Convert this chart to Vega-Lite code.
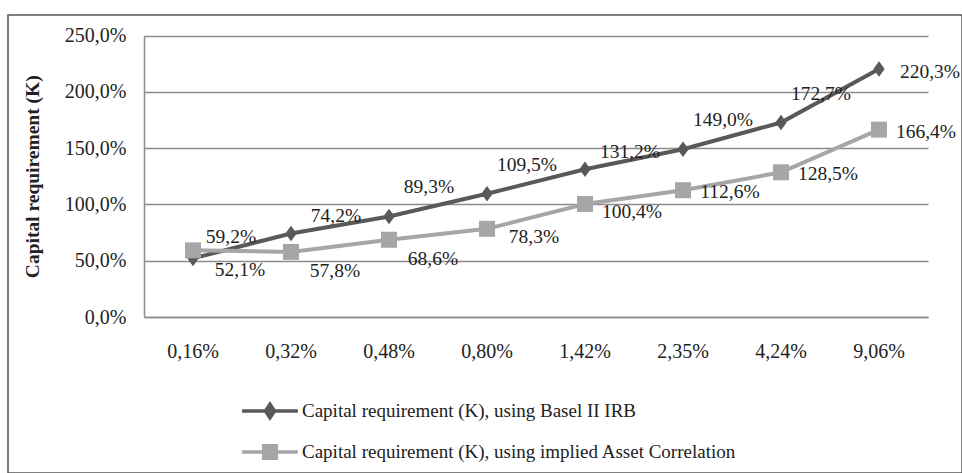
{
  "$schema": "https://vega.github.io/schema/vega-lite/v6.json",
  "autosize": {"type": "none"},
  "padding": {"left": 8, "top": 15, "right": 0, "bottom": 0},
  "width": 954,
  "height": 458,
  "background": "white",
  "config": {
    "locale": {"number": {"decimal": ",", "thousands": ".", "grouping": [3], "currency": ["", " €"]}},
    "view": {"stroke": "#555555", "strokeWidth": 1.5},
    "font": "Liberation Serif",
    "text": {"font": "Liberation Serif"}
  },
  "data": {
    "values": [
      {"pd": "0,16%", "series": "Capital requirement (K), using Basel II IRB", "value": 0.521},
      {"pd": "0,32%", "series": "Capital requirement (K), using Basel II IRB", "value": 0.742},
      {"pd": "0,48%", "series": "Capital requirement (K), using Basel II IRB", "value": 0.893},
      {"pd": "0,80%", "series": "Capital requirement (K), using Basel II IRB", "value": 1.095},
      {"pd": "1,42%", "series": "Capital requirement (K), using Basel II IRB", "value": 1.312},
      {"pd": "2,35%", "series": "Capital requirement (K), using Basel II IRB", "value": 1.490},
      {"pd": "4,24%", "series": "Capital requirement (K), using Basel II IRB", "value": 1.727},
      {"pd": "9,06%", "series": "Capital requirement (K), using Basel II IRB", "value": 2.203},
      {"pd": "0,16%", "series": "Capital requirement (K), using implied Asset Correlation", "value": 0.592},
      {"pd": "0,32%", "series": "Capital requirement (K), using implied Asset Correlation", "value": 0.578},
      {"pd": "0,48%", "series": "Capital requirement (K), using implied Asset Correlation", "value": 0.686},
      {"pd": "0,80%", "series": "Capital requirement (K), using implied Asset Correlation", "value": 0.783},
      {"pd": "1,42%", "series": "Capital requirement (K), using implied Asset Correlation", "value": 1.004},
      {"pd": "2,35%", "series": "Capital requirement (K), using implied Asset Correlation", "value": 1.126},
      {"pd": "4,24%", "series": "Capital requirement (K), using implied Asset Correlation", "value": 1.285},
      {"pd": "9,06%", "series": "Capital requirement (K), using implied Asset Correlation", "value": 1.664}
    ]
  },
  "encoding": {
    "x": {
      "field": "pd", "type": "ordinal", "sort": null,
      "scale": {"type": "band", "range": [136, 920], "paddingInner": 0, "paddingOuter": 0},
      "axis": {"title": null, "offset": -156, "ticks": false, "labelPadding": 24, "labelAngle": 0, "grid": false,
               "domainColor": "#8c8c8c", "domainWidth": 1.5, "labelFontSize": 20, "labelColor": "#222222", "labelFont": "Liberation Serif"}
    },
    "y": {
      "field": "value", "type": "quantitative",
      "scale": {"domain": [0, 2.5], "range": [302, 20.5], "nice": false, "zero": true},
      "axis": {"values": [0, 0.5, 1, 1.5, 2, 2.5], "format": ".1%", "offset": -136, "ticks": false, "labelPadding": 18,
               "labelFontSize": 20, "labelColor": "#222222", "labelFont": "Liberation Serif",
               "domainColor": "#8c8c8c", "domainWidth": 1.5, "grid": true, "gridColor": "#8c8c8c", "gridWidth": 1.3,
               "title": "Capital requirement (K)", "titleFont": "Liberation Serif", "titleFontSize": 19.5, "titleFontWeight": "bold",
               "titleColor": "#222222", "titlePadding": 22}
    },
    "color": {
      "field": "series", "type": "nominal",
      "scale": {"domain": ["Capital requirement (K), using Basel II IRB", "Capital requirement (K), using implied Asset Correlation"], "range": ["#595959", "#a6a6a6"]},
      "legend": {
        "title": null, "orient": "none", "legendX": 251, "legendY": 385, "direction": "vertical",
        "labelFont": "Liberation Serif", "labelFontSize": 19, "labelColor": "#222222", "labelLimit": 0,
        "symbolSize": 324, "labelOffset": 21, "rowPadding": 13, "padding": 0, "symbolStrokeWidth": 3.5,
        "encode": {
          "symbols": {
            "update": {
              "shape": {"signal": "datum.value === 'Capital requirement (K), using Basel II IRB' ? 'M-3.1,0L3.1,0M0,-0.75L0.5,0L0,0.75L-0.5,0Z' : 'M-3.1,0L3.1,0M-0.7,-0.7L0.7,-0.7L0.7,0.7L-0.7,0.7Z'"},
              "fill": {"signal": "scale('color', datum.value)"},
              "stroke": {"signal": "scale('color', datum.value)"},
              "strokeWidth": {"value": 3.5},
              "opacity": {"value": 1},
              "fillOpacity": {"value": 1}
            }
          }
        }
      }
    }
  },
  "layer": [
    {"mark": {"type": "line", "strokeWidth": 4}},
    {
      "transform": [{"filter": {"field": "series", "equal": "Capital requirement (K), using Basel II IRB"}}],
      "mark": {"type": "point", "filled": true, "opacity": 1, "shape": "M0,-1.3L0.95,0L0,1.3L-0.95,0Z", "size": 144}
    },
    {
      "transform": [{"filter": {"field": "series", "equal": "Capital requirement (K), using implied Asset Correlation"}}],
      "mark": {"type": "point", "filled": true, "opacity": 1, "shape": "square", "size": 256}
    },
    {
      "transform": [{"filter": {"and": [{"field": "series", "equal": "Capital requirement (K), using Basel II IRB"}, {"field": "pd", "oneOf": ["0,16%"]}]}}],
      "mark": {"type": "text", "dx": 47, "dy": 12, "fontSize": 19.5, "baseline": "middle", "align": "center"},
      "encoding": {"text": {"field": "value", "type": "quantitative", "format": ".1%"}, "color": {"value": "#222222"}}
    },
    {
      "transform": [{"filter": {"and": [{"field": "series", "equal": "Capital requirement (K), using Basel II IRB"}, {"field": "pd", "oneOf": ["0,32%", "1,42%"]}]}}],
      "mark": {"type": "text", "dx": 45, "dy": -17, "fontSize": 19.5, "baseline": "middle", "align": "center"},
      "encoding": {"text": {"field": "value", "type": "quantitative", "format": ".1%"}, "color": {"value": "#222222"}}
    },
    {
      "transform": [{"filter": {"and": [{"field": "series", "equal": "Capital requirement (K), using Basel II IRB"}, {"field": "pd", "oneOf": ["0,48%", "0,80%", "2,35%", "4,24%"]}]}}],
      "mark": {"type": "text", "dx": 40, "dy": -29, "fontSize": 19.5, "baseline": "middle", "align": "center"},
      "encoding": {"text": {"field": "value", "type": "quantitative", "format": ".1%"}, "color": {"value": "#222222"}}
    },
    {
      "transform": [{"filter": {"and": [{"field": "series", "equal": "Capital requirement (K), using Basel II IRB"}, {"field": "pd", "oneOf": ["9,06%"]}]}}],
      "mark": {"type": "text", "dx": 51, "dy": 3, "fontSize": 19.5, "baseline": "middle", "align": "center"},
      "encoding": {"text": {"field": "value", "type": "quantitative", "format": ".1%"}, "color": {"value": "#222222"}}
    },
    {
      "transform": [{"filter": {"and": [{"field": "series", "equal": "Capital requirement (K), using implied Asset Correlation"}, {"field": "pd", "oneOf": ["0,16%"]}]}}],
      "mark": {"type": "text", "dx": 38, "dy": -13, "fontSize": 19.5, "baseline": "middle", "align": "center"},
      "encoding": {"text": {"field": "value", "type": "quantitative", "format": ".1%"}, "color": {"value": "#222222"}}
    },
    {
      "transform": [{"filter": {"and": [{"field": "series", "equal": "Capital requirement (K), using implied Asset Correlation"}, {"field": "pd", "oneOf": ["0,32%", "0,48%"]}]}}],
      "mark": {"type": "text", "dx": 44, "dy": 19, "fontSize": 19.5, "baseline": "middle", "align": "center"},
      "encoding": {"text": {"field": "value", "type": "quantitative", "format": ".1%"}, "color": {"value": "#222222"}}
    },
    {
      "transform": [{"filter": {"and": [{"field": "series", "equal": "Capital requirement (K), using implied Asset Correlation"}, {"field": "pd", "oneOf": ["0,80%", "1,42%"]}]}}],
      "mark": {"type": "text", "dx": 47, "dy": 8, "fontSize": 19.5, "baseline": "middle", "align": "center"},
      "encoding": {"text": {"field": "value", "type": "quantitative", "format": ".1%"}, "color": {"value": "#222222"}}
    },
    {
      "transform": [{"filter": {"and": [{"field": "series", "equal": "Capital requirement (K), using implied Asset Correlation"}, {"field": "pd", "oneOf": ["2,35%", "4,24%", "9,06%"]}]}}],
      "mark": {"type": "text", "dx": 47, "dy": 2, "fontSize": 19.5, "baseline": "middle", "align": "center"},
      "encoding": {"text": {"field": "value", "type": "quantitative", "format": ".1%"}, "color": {"value": "#222222"}}
    }
  ]
}
